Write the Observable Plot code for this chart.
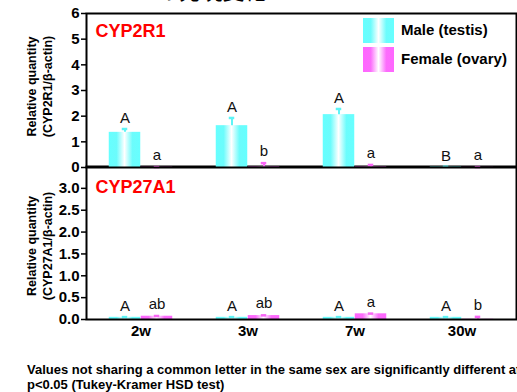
<!DOCTYPE html>
<html><head><meta charset="utf-8">
<script src="https://cdn.jsdelivr.net/npm/d3@7"></script>
<script src="https://cdn.jsdelivr.net/npm/@observablehq/plot@0.6"></script>
<style>
body{margin:0;background:#fff;}
#wrap{position:relative;width:517px;height:392px;overflow:hidden;font-family:"Liberation Sans",Arial,sans-serif;color:#000;}
.abs{position:absolute;}
.leg{position:absolute;left:401px;font-size:15px;font-weight:bold;line-height:18px;white-space:nowrap;}
#foot{position:absolute;left:27px;top:362px;font-size:13px;font-weight:bold;line-height:15px;white-space:nowrap;}
</style></head><body>
<div id="wrap">
  <svg width="0" height="0" style="position:absolute">
    <defs>
      <linearGradient id="gm" x1="0" x2="1" y1="0" y2="0">
        <stop offset="0" stop-color="#66ffff"/>
        <stop offset="0.25" stop-color="#6cfcfc"/>
        <stop offset="0.5" stop-color="#ffffff"/>
        <stop offset="0.75" stop-color="#6cfcfc"/>
        <stop offset="1" stop-color="#66ffff"/>
      </linearGradient>
      <linearGradient id="gf" x1="0" x2="1" y1="0" y2="0">
        <stop offset="0" stop-color="#ff66ff"/>
        <stop offset="0.25" stop-color="#fc6cfc"/>
        <stop offset="0.5" stop-color="#ffffff"/>
        <stop offset="0.75" stop-color="#fc6cfc"/>
        <stop offset="1" stop-color="#ff66ff"/>
      </linearGradient>
    </defs>
  </svg>
  <div id="bottom" class="abs" style="left:0;top:150px"></div>
  <div id="top" class="abs" style="left:0;top:0"></div>
  <svg class="abs" style="left:0;top:0" width="517" height="12">
    <text x="88" y="-1" font-family="'Noto Sans CJK JP', sans-serif" font-size="22">mRNA の発現変化</text>
  </svg>
  <svg class="abs" style="left:363px;top:18px" width="31" height="25"><rect width="31" height="25" fill="url(#gm)"/></svg>
  <svg class="abs" style="left:363px;top:47px" width="31" height="25"><rect width="31" height="25" fill="url(#gf)"/></svg>
  <div class="leg" id="legM" style="top:21px"></div>
  <div class="leg" id="legF" style="top:50px"></div>
  <div id="foot"></div>
</div>
<script>
// ---- data ----
const groups = ["2w", "3w", "7w", "30w"];
const legendLabels = ["Male (testis)", "Female (ovary)"];

const r1Male = [1.37, 1.63, 2.06, 0.02];
const r1MaleErr = [0.13, 0.30, 0.22, 0.01];
const r1MaleLetters = ["A", "A", "A", "B"];
const r1Female = [0.01, 0.02, 0.02, 0.005];
const r1FemaleErr = [0.005, 0.15, 0.08, 0.01];
const r1FemaleLetters = ["a", "b", "a", "a"];

const a1Male = [0.05, 0.05, 0.05, 0.05];
const a1MaleErr = [0.005, 0.005, 0.005, 0.005];
const a1MaleLetters = ["A", "A", "A", "A"];
const a1Female = [0.075, 0.09, 0.13, 0.005];
const a1FemaleErr = [0.005, 0.005, 0.005, 0.055];
const a1FemaleLetters = ["ab", "ab", "a", "b"];

const r1Ticks = [0, 1, 2, 3, 4, 5, 6];
const a1Ticks = [0, 0.5, 1.0, 1.5, 2.0, 2.5, 3.0];

const footLines = [
  "Values not sharing a common letter in the same sex are significantly different at",
  "p<0.05 (Tukey-Kramer HSD test)"
];

// ---- build ----
const CYAN = "#5ef4f6", MAG = "#f966f6";
const FONT = "'Liberation Sans', Arial, sans-serif";
const W = 517, ML = 86, MR = 1;
const half = (W - ML - MR) / groups.length / 2;
const barW = 32;

function rows(v, e, l) { return groups.map((g, i) => ({group: g, value: v[i], err: e[i], letter: l[i]})); }

function panel({male, female, domain, ticks, fmt, height, mt, mb, name, nameDy, ytitle, ytitleDy, xAxis}) {
  const marks = [
    Plot.barY(male, {x: "group", y: "value", fill: "url(#gm)", insetLeft: half - barW, insetRight: half}),
    Plot.barY(female, {x: "group", y: "value", fill: "url(#gf)", insetLeft: half, insetRight: half - barW}),
    Plot.ruleX(male, {x: "group", y1: "value", y2: d => d.value + d.err, stroke: CYAN, strokeWidth: 2, dx: -barW / 2}),
    Plot.ruleX(female, {x: "group", y1: "value", y2: d => d.value + d.err, stroke: MAG, strokeWidth: 2, dx: barW / 2}),
    Plot.tickY(male, {x: "group", y: d => d.value + d.err, stroke: CYAN, strokeWidth: 2.5, insetLeft: half - barW / 2 - 3, insetRight: half + barW / 2 - 3}),
    Plot.tickY(female, {x: "group", y: d => d.value + d.err, stroke: MAG, strokeWidth: 2.5, insetLeft: half + barW / 2 - 3, insetRight: half - barW / 2 - 3}),
    Plot.text(male, {x: "group", y: d => d.value + d.err, text: "letter", dx: -barW / 2, dy: -6, lineAnchor: "bottom", fontSize: 15, fontWeight: "normal", fill: "#111"}),
    Plot.text(female, {x: "group", y: d => d.value + d.err, text: "letter", dx: barW / 2, dy: -7, lineAnchor: "bottom", fontSize: 15, fontWeight: "normal", fill: "#111"}),
    Plot.frame({stroke: "black", strokeWidth: 2}),
    Plot.axisY({ticks, tickFormat: fmt, tickSize: 5, tickPadding: 2, fontSize: 15, fontWeight: "bold", strokeWidth: 1.5, label: null}),
    Plot.text([name], {frameAnchor: "top-left", dx: 9, dy: nameDy, lineAnchor: "top", textAnchor: "start", fill: "#ff0000", fontSize: 18, fontWeight: "bold"}),
    Plot.text([ytitle], {frameAnchor: "left", rotate: -90, dx: -48, dy: ytitleDy, textAnchor: "middle", lineAnchor: "middle", lineHeight: 1.3, fontSize: 12.5, fontWeight: "bold"})
  ];
  if (xAxis) marks.push(Plot.axisX({tickSize: 0, tickPadding: 6, fontSize: 15, fontWeight: "bold", label: null}));
  return Plot.plot({
    width: W, height, marginLeft: ML, marginRight: MR, marginTop: mt, marginBottom: mb,
    style: {fontFamily: FONT, fontWeight: "bold", background: "transparent", overflow: "visible"},
    x: {domain: groups, padding: 0, axis: null},
    y: {domain, axis: null},
    marks
  });
}

const topPlot = panel({
  male: rows(r1Male, r1MaleErr, r1MaleLetters),
  female: rows(r1Female, r1FemaleErr, r1FemaleLetters),
  domain: [0, 6], ticks: r1Ticks, fmt: d3.format("d"),
  height: 175, mt: 13, mb: 8, name: "CYP2R1", nameDy: 11,
  ytitle: "Relative quantity\n(CYP2R1/β-actin)", ytitleDy: -4, xAxis: false
});
const botPlot = panel({
  male: rows(a1Male, a1MaleErr, a1MaleLetters),
  female: rows(a1Female, a1FemaleErr, a1FemaleLetters),
  domain: [0, 3.5], ticks: a1Ticks, fmt: d3.format(".1f"),
  height: 200, mt: 16, mb: 31, name: "CYP27A1", nameDy: 14,
  ytitle: "Relative quantity\n(CYP27A1/β-actin)", ytitleDy: 3, xAxis: true
});
document.getElementById("top").appendChild(topPlot);
document.getElementById("bottom").appendChild(botPlot);
document.getElementById("legM").textContent = legendLabels[0];
document.getElementById("legF").textContent = legendLabels[1];
document.getElementById("foot").innerHTML = footLines.map(s => `<div>${s}</div>`).join("");
</script>
</body></html>
